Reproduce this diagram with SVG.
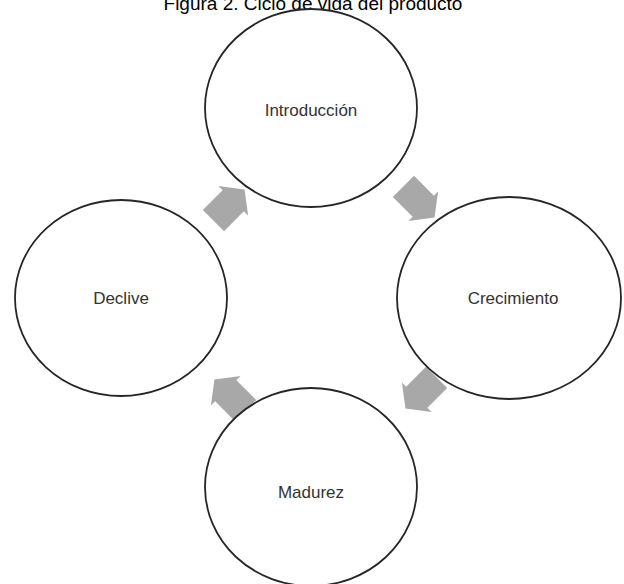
<svg xmlns="http://www.w3.org/2000/svg" width="624" height="584" viewBox="0 0 624 584">
  <style>
    .stage { fill: #ffffff; stroke: #262626; stroke-width: 1.8; }
    .label { font-family: "Liberation Sans", Arial, sans-serif; font-size: 17px; fill: #333333; text-anchor: middle; }
    .title { font-family: "Liberation Sans", Arial, sans-serif; font-size: 19px; fill: #000000; text-anchor: middle; }
    .flow { fill: #a8a8a8; }
  </style>
  <defs>
    <!-- block arrow pointing along +x, centred on the origin -->
    <polygon id="blockArrow" points="-22,-15 6,-15 6,-21 22,0 6,21 6,15 -22,15"/>
  </defs>
  <rect width="624" height="584" fill="#ffffff"/>

  <text class="title" x="313" y="10">Figura 2. Ciclo de vida del producto</text>

  <g id="connectors">
    <use href="#blockArrow" class="flow" transform="translate(229,205) rotate(-45)"/>
    <use href="#blockArrow" class="flow" transform="translate(419,202) rotate(45)"/>
    <use href="#blockArrow" class="flow" transform="translate(421,393) rotate(135)"/>
    <use href="#blockArrow" class="flow" transform="translate(230,395) rotate(-135)"/>
  </g>

  <g id="introduccion">
    <ellipse class="stage" cx="311" cy="108" rx="106" ry="99"/>
    <text class="label" x="311" y="116">Introducción</text>
  </g>
  <g id="crecimiento">
    <ellipse class="stage" cx="509" cy="298" rx="112" ry="101"/>
    <text class="label" x="513" y="304">Crecimiento</text>
  </g>
  <g id="madurez">
    <ellipse class="stage" cx="311" cy="487" rx="106" ry="99"/>
    <text class="label" x="311" y="498">Madurez</text>
  </g>
  <g id="declive">
    <ellipse class="stage" cx="121" cy="298" rx="106" ry="98"/>
    <text class="label" x="121" y="304">Declive</text>
  </g>
</svg>
